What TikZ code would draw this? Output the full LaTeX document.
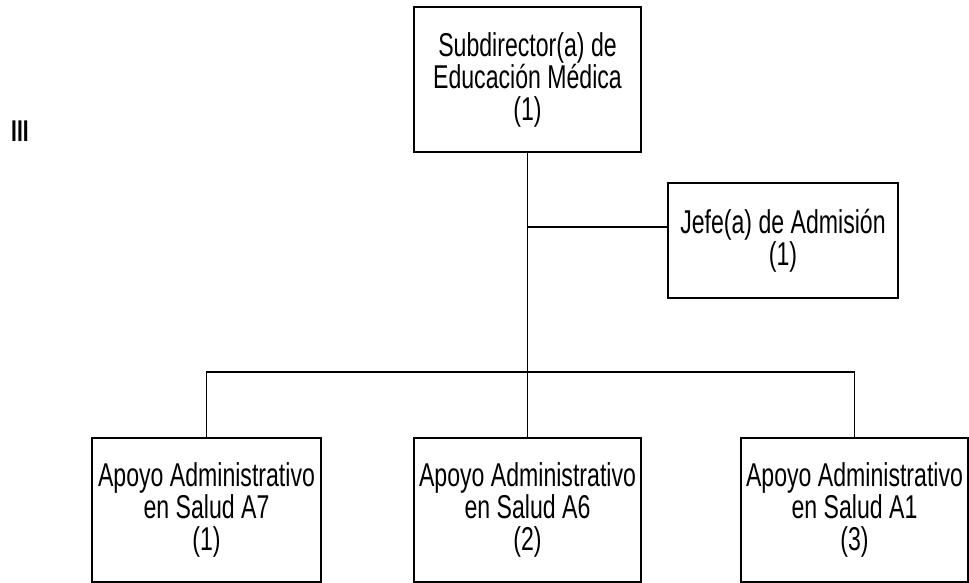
\documentclass[tikz,border=0pt]{standalone}
\usepackage{fontspec}
\newfontfamily\narrowsans[FakeStretch=0.7]{Liberation Sans}
\setmainfont{Liberation Sans}
\begin{document}
\begin{tikzpicture}[x=1pt,y=1pt,
  orgbox/.style={draw=black,line width=1.4pt,rectangle,align=center,inner sep=0pt,
    font=\narrowsans\fontsize{33}{32}\selectfont},
  conn/.style={draw=black,line width=1.4pt}]
\useasboundingbox (0,0) rectangle (969,-583);
\node[orgbox,minimum width=227,minimum height=145] (top) at (527.5,-79.5)
  {Subdirector(a) de\\Educación Médica\\(1)};
\node[orgbox,minimum width=230,minimum height=115] (jefe) at (783,-240.5)
  {Jefe(a) de Admisión\\(1)};
\node[orgbox,minimum width=229,minimum height=144] (left) at (206.5,-510)
  {Apoyo Administrativo\\en Salud A7\\(1)};
\node[orgbox,minimum width=227,minimum height=144] (mid) at (527.5,-510)
  {Apoyo Administrativo\\en Salud A6\\(2)};
\node[orgbox,minimum width=227,minimum height=144] (right) at (854.5,-510)
  {Apoyo Administrativo\\en Salud A1\\(3)};
\node[font=\narrowsans\bfseries\fontsize{30}{30}\selectfont,inner sep=0pt] (num) at (20,-131) {III};
\coordinate (bus) at (527.5,-372);
\coordinate (jb) at (527.5,-227);
\draw[conn] (top.south) -- (bus);
\draw[conn] (jb) -- (jb -| jefe.west);
\draw[conn] (left.north) |- (bus) -| (right.north);
\draw[conn] (bus) -- (mid.north);
\end{tikzpicture}
\end{document}
